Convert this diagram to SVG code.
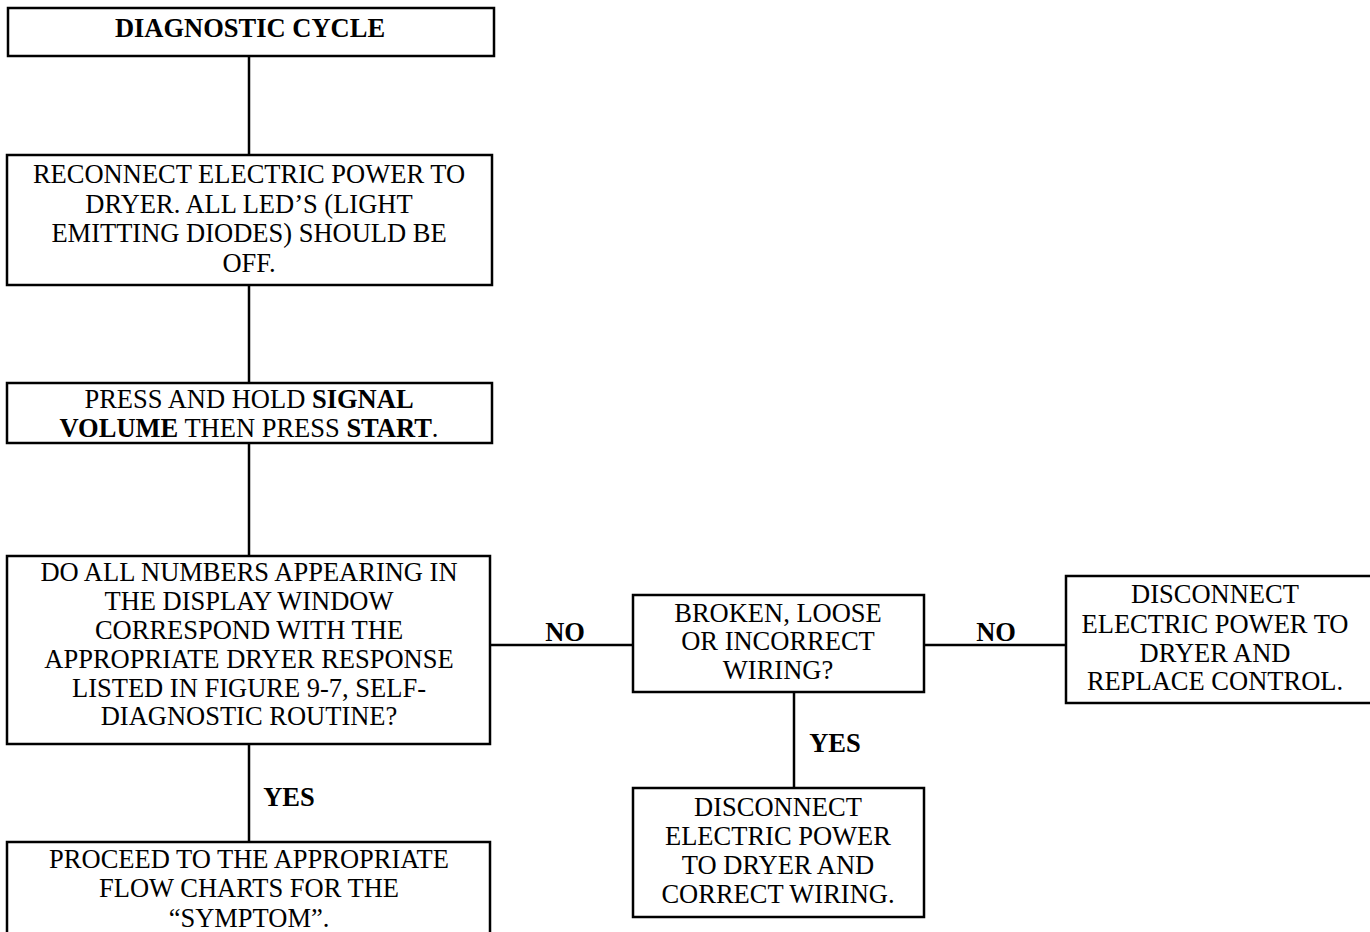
<svg xmlns="http://www.w3.org/2000/svg" width="1370" height="932" viewBox="0 0 1370 932">
<style>
.box{fill:#fff;stroke:#000;stroke-width:2.5}
.ln{stroke:#000;stroke-width:2.5;fill:none}
text{font-family:"Liberation Serif","Times New Roman",serif;font-size:26.5px;fill:#000;text-anchor:middle}
.b{font-weight:bold}
</style>
<rect width="1370" height="932" fill="#fff"/>
<g id="connectors">
<line class="ln" x1="249" y1="56" x2="249" y2="155"/>
<line class="ln" x1="249" y1="285" x2="249" y2="383"/>
<line class="ln" x1="249" y1="443" x2="249" y2="556"/>
<line class="ln" x1="249" y1="744" x2="249" y2="842"/>
<line class="ln" x1="490" y1="645" x2="633" y2="645"/>
<line class="ln" x1="924" y1="645" x2="1066" y2="645"/>
<line class="ln" x1="794" y1="692" x2="794" y2="788"/>
<text class="b" x="565" y="641">NO</text>
<text class="b" x="996" y="641">NO</text>
<text class="b" x="835" y="752">YES</text>
<text class="b" x="289" y="806">YES</text>
</g>
<g id="n1">
<rect class="box" x="8" y="8" width="486" height="48"/>
<text class="b" x="250" y="37">DIAGNOSTIC CYCLE</text>
</g>
<g id="n2">
<rect class="box" x="7" y="155" width="485" height="130"/>
<text x="249" y="183">RECONNECT ELECTRIC POWER TO</text>
<text x="249" y="213">DRYER. ALL LED’S (LIGHT</text>
<text x="249" y="242">EMITTING DIODES) SHOULD BE</text>
<text x="249" y="272">OFF.</text>
</g>
<g id="n3">
<rect class="box" x="7" y="383" width="485" height="60"/>
<text x="249" y="408">PRESS AND HOLD <tspan class="b">SIGNAL</tspan></text>
<text x="249" y="437"><tspan class="b">VOLUME</tspan> THEN PRESS <tspan class="b">START</tspan>.</text>
</g>
<g id="n4">
<rect class="box" x="7" y="556" width="483" height="188"/>
<text x="249" y="581">DO ALL NUMBERS APPEARING IN</text>
<text x="249" y="610">THE DISPLAY WINDOW</text>
<text x="249" y="639">CORRESPOND WITH THE</text>
<text x="249" y="668">APPROPRIATE DRYER RESPONSE</text>
<text x="249" y="697">LISTED IN FIGURE 9-7, SELF-</text>
<text x="249" y="725">DIAGNOSTIC ROUTINE?</text>
</g>
<g id="n5">
<rect class="box" x="633" y="595" width="291" height="97"/>
<text x="778" y="622">BROKEN, LOOSE</text>
<text x="778" y="650">OR INCORRECT</text>
<text x="778" y="679">WIRING?</text>
</g>
<g id="n6">
<rect class="box" x="1066" y="576" width="310" height="127"/>
<text x="1215" y="603">DISCONNECT</text>
<text x="1215" y="633">ELECTRIC POWER TO</text>
<text x="1215" y="662">DRYER AND</text>
<text x="1215" y="690">REPLACE CONTROL.</text>
</g>
<g id="n7">
<rect class="box" x="633" y="788" width="291" height="129"/>
<text x="778" y="816">DISCONNECT</text>
<text x="778" y="845">ELECTRIC POWER</text>
<text x="778" y="874">TO DRYER AND</text>
<text x="778" y="903">CORRECT WIRING.</text>
</g>
<g id="n8">
<rect class="box" x="7" y="842" width="483" height="100"/>
<text x="249" y="868">PROCEED TO THE APPROPRIATE</text>
<text x="249" y="897">FLOW CHARTS FOR THE</text>
<text x="249" y="927">“SYMPTOM”.</text>
</g>
</svg>
